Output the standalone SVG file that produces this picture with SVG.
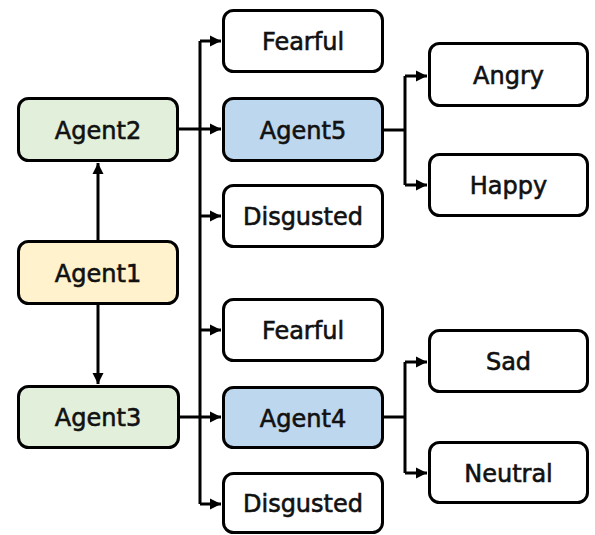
<svg xmlns="http://www.w3.org/2000/svg" width="595" height="535" viewBox="0 0 595 535">
<style>
.box{stroke:#000;stroke-width:3;}
.w{fill:#fff;}
.g{fill:#E2EFDA;}
.y{fill:#FFF2CC;}
.b{fill:#BDD7EE;}
text{font-family:"DejaVu Sans","Noto Sans",sans-serif;font-size:24px;fill:#111;stroke:#111;stroke-width:0.6;text-anchor:middle;}
.c{fill:none;stroke:#000;stroke-width:3;}
</style>
<defs>
<marker id="ah" markerUnits="userSpaceOnUse" markerWidth="12" markerHeight="12" refX="11" refY="6" orient="auto">
<path d="M0,0.5 L11,6 L0,11.5 Z" fill="#000"/>
</marker>
</defs>
<rect width="595" height="535" fill="#fff"/>
<g id="connectors">
<path class="c" d="M98 240 V163" marker-end="url(#ah)"/>
<path class="c" d="M98 305 V384" marker-end="url(#ah)"/>
<path class="c" d="M200 41 V504"/>
<path class="c" d="M179 129 H221" marker-end="url(#ah)"/>
<path class="c" d="M180 417 H221" marker-end="url(#ah)"/>
<path class="c" d="M200 41 H221" marker-end="url(#ah)"/>
<path class="c" d="M200 216 H221" marker-end="url(#ah)"/>
<path class="c" d="M200 330 H221" marker-end="url(#ah)"/>
<path class="c" d="M200 504 H221" marker-end="url(#ah)"/>
<path class="c" d="M384 130 H405"/>
<path class="c" d="M405 76 V185"/>
<path class="c" d="M405 76 H427" marker-end="url(#ah)"/>
<path class="c" d="M405 185 H427" marker-end="url(#ah)"/>
<path class="c" d="M384 417 H405"/>
<path class="c" d="M405 362 V473"/>
<path class="c" d="M405 362 H427" marker-end="url(#ah)"/>
<path class="c" d="M405 473 H427" marker-end="url(#ah)"/>
</g>
<g id="agent2"><rect class="box g" x="18.5" y="98.5" width="159" height="62" rx="10"/><text x="98" y="138.5">Agent2</text></g>
<g id="agent1"><rect class="box y" x="18.5" y="241.5" width="159" height="62" rx="10"/><text x="98" y="281.5">Agent1</text></g>
<g id="agent3"><rect class="box g" x="18.5" y="386.5" width="160" height="61" rx="10"/><text x="98" y="426">Agent3</text></g>
<g id="fearful1"><rect class="box w" x="223.5" y="10.5" width="159" height="61" rx="10"/><text x="303" y="50">Fearful</text></g>
<g id="agent5"><rect class="box b" x="223.5" y="98.5" width="159" height="62" rx="10"/><text x="303" y="138.5">Agent5</text></g>
<g id="disgusted1"><rect class="box w" x="223.5" y="185.5" width="159" height="61" rx="10"/><text x="303" y="225">Disgusted</text></g>
<g id="fearful2"><rect class="box w" x="223.5" y="299.5" width="159" height="61" rx="10"/><text x="303" y="339">Fearful</text></g>
<g id="agent4"><rect class="box b" x="223.5" y="387.5" width="159" height="60" rx="10"/><text x="303" y="426.5">Agent4</text></g>
<g id="disgusted2"><rect class="box w" x="223.5" y="473.5" width="159" height="59" rx="10"/><text x="303" y="512">Disgusted</text></g>
<g id="angry"><rect class="box w" x="429.5" y="43.5" width="158" height="62" rx="10"/><text x="508.5" y="83.5">Angry</text></g>
<g id="happy"><rect class="box w" x="429.5" y="154.5" width="158" height="61" rx="10"/><text x="508.5" y="194">Happy</text></g>
<g id="sad"><rect class="box w" x="429.5" y="330.5" width="158" height="61" rx="10"/><text x="508.5" y="370">Sad</text></g>
<g id="neutral"><rect class="box w" x="429.5" y="442.5" width="158" height="60" rx="10"/><text x="508.5" y="481.5">Neutral</text></g>
</svg>
